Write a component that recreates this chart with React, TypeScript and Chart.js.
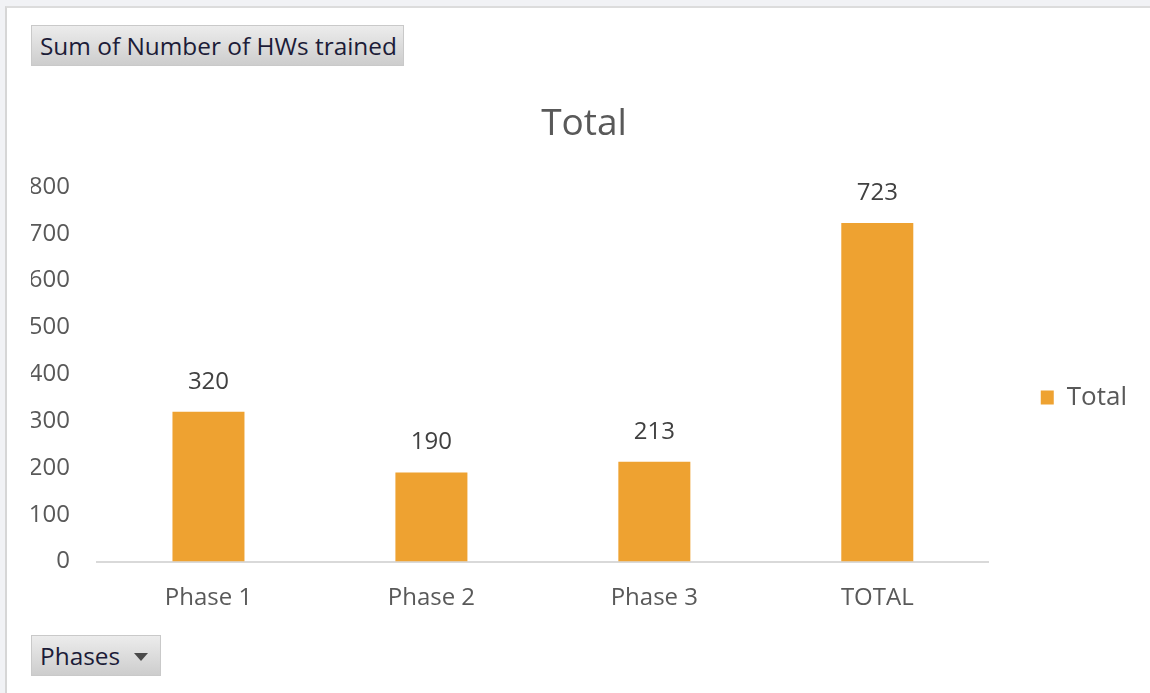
import React, { useEffect, useRef } from "react";
import { Chart, registerables } from "chart.js";

Chart.register(...registerables);

const categories = ["Phase 1", "Phase 2", "Phase 3", "TOTAL"];
const seriesLabel = "Total";
const seriesValues = [320, 190, 213, 723];
const yTicks = [0, 100, 200, 300, 400, 500, 600, 700, 800];
const chartTitle = "Total";
const valueFieldLabel = "Sum of Number of HWs trained";
const axisFieldLabel = "Phases";

const BAR_COLOR = "#EEA231";
const TEXT_GRAY = "#595959";
const FONT = "'Open Sans', 'DejaVu Sans', sans-serif";

const valueLabelPlugin = {
  id: "valueLabels",
  afterDatasetsDraw(chart: any) {
    const ctx = chart.ctx;
    ctx.save();
    ctx.font = `24px ${FONT}`;
    ctx.fillStyle = "#404040";
    ctx.textAlign = "center";
    ctx.textBaseline = "middle";
    chart.data.datasets.forEach((ds: any, di: number) => {
      const meta = chart.getDatasetMeta(di);
      meta.data.forEach((el: any, i: number) => {
        ctx.fillText(String(ds.data[i]), el.x, el.y - 30);
      });
    });
    ctx.restore();
  },
};

export default function App() {
  const canvasRef = useRef<HTMLCanvasElement | null>(null);

  useEffect(() => {
    document.body.style.margin = "0";
    const canvas = canvasRef.current;
    if (!canvas) return;
    const chart = new Chart(canvas, {
      type: "bar",
      data: {
        labels: categories,
        datasets: [
          {
            label: seriesLabel,
            data: seriesValues,
            backgroundColor: BAR_COLOR,
            borderWidth: 0,
            categoryPercentage: 1,
            barPercentage: 0.323,
          },
        ],
      },
      options: {
        responsive: false,
        animation: false,
        layout: { padding: { top: 102, left: 31, right: 13, bottom: 0 } },
        plugins: {
          title: {
            display: true,
            text: chartTitle,
            color: TEXT_GRAY,
            font: { family: FONT, size: 37, weight: "normal" },
            padding: { top: 0, bottom: 40.6 },
          },
          legend: {
            display: true,
            position: "right",
            align: "center",
            labels: {
              boxWidth: 13,
              boxHeight: 14,
              padding: 52,
              color: TEXT_GRAY,
              font: { family: FONT, size: 26 },
            },
          },
          tooltip: { enabled: false },
        },
        scales: {
          x: {
            grid: { display: false },
            border: { display: true, color: "#d9d9d9", width: 2 },
            ticks: {
              color: TEXT_GRAY,
              font: { family: FONT, size: 24 },
              padding: 14,
            },
            afterFit(scale: any) {
              scale.height = 131.5;
            },
          },
          y: {
            min: 0,
            max: yTicks[yTicks.length - 1],
            grid: { display: false },
            border: { display: false },
            afterBuildTicks(scale: any) {
              scale.ticks = yTicks.map((v) => ({ value: v }));
            },
            ticks: {
              color: TEXT_GRAY,
              font: { family: FONT, size: 24 },
              padding: 19,
            },
            afterFit(scale: any) {
              scale.width = 66;
            },
          },
        },
      },
      plugins: [valueLabelPlugin],
    });
    return () => chart.destroy();
  }, []);

  const buttonStyle: React.CSSProperties = {
    position: "absolute",
    left: 31,
    height: 41,
    boxSizing: "border-box",
    background: "linear-gradient(#ececec, #cdcdcd)",
    border: "1px solid #c9c9c9",
    color: "#1c1c38",
    fontFamily: FONT,
    fontSize: 24.4,
    lineHeight: "39px",
    paddingLeft: 8,
    whiteSpace: "nowrap",
  };

  return (
    <div
      style={{
        position: "relative",
        width: 1150,
        height: 693,
        background: "#f1f2f5",
        overflow: "hidden",
      }}
    >
      <div
        style={{
          position: "absolute",
          left: 5,
          top: 6,
          width: 1145,
          height: 687,
          background: "#ffffff",
          borderLeft: "2px solid #d6d6d6",
          borderTop: "2px solid #dcdcdc",
          boxSizing: "border-box",
        }}
      />
      <canvas
        ref={canvasRef}
        width={1150}
        height={693}
        style={{ position: "absolute", left: 0, top: 0, display: "block" }}
      />
      <div style={{ ...buttonStyle, top: 25, width: 373 }}>{valueFieldLabel}</div>
      <div style={{ ...buttonStyle, top: 635, width: 130 }}>
        {axisFieldLabel}
        <span
          style={{
            position: "absolute",
            left: 102,
            top: 17,
            width: 0,
            height: 0,
            borderLeft: "7px solid transparent",
            borderRight: "7px solid transparent",
            borderTop: "8px solid #4a4a4a",
          }}
        />
      </div>
    </div>
  );
}
